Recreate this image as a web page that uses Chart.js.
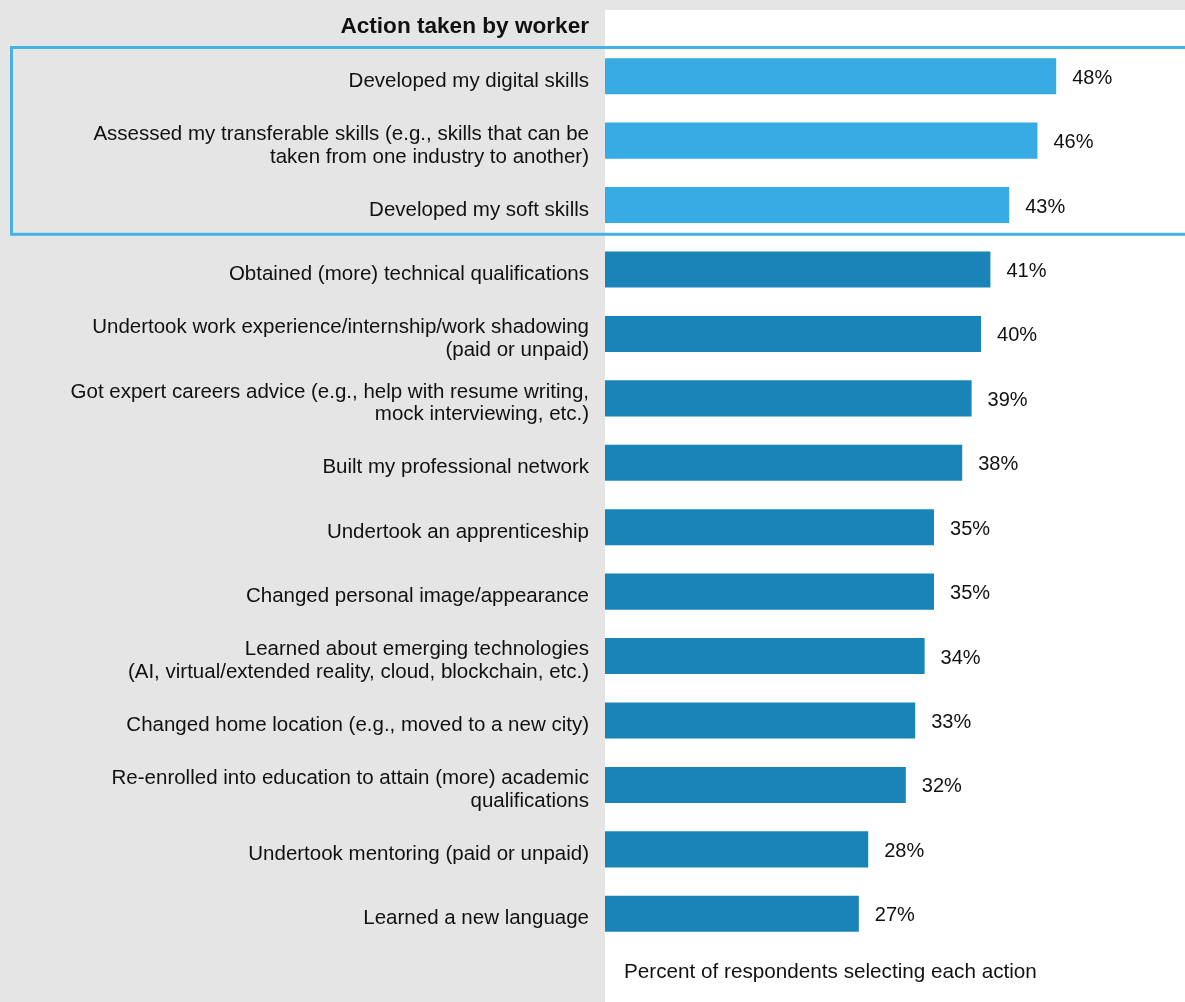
<!DOCTYPE html>
<html>
<head>
<meta charset="utf-8">
<script src="https://cdn.jsdelivr.net/npm/chart.js@4.4.1/dist/chart.umd.min.js"></script>
<style>
  html, body { margin: 0; padding: 0; background: #e5e5e5; }
  #wrap { width: 1185px; height: 1002px; position: relative; }
</style>
</head>
<body>
<div id="wrap"><canvas id="chart"></canvas></div>
<script>
const labels = [
  'Developed my digital skills',
  ['Assessed my transferable skills (e.g., skills that can be', 'taken from one industry to another)'],
  'Developed my soft skills',
  'Obtained (more) technical qualifications',
  ['Undertook work experience/internship/work shadowing', '(paid or unpaid)'],
  ['Got expert careers advice (e.g., help with resume writing,', 'mock interviewing, etc.)'],
  'Built my professional network',
  'Undertook an apprenticeship',
  'Changed personal image/appearance',
  ['Learned about emerging technologies', '(AI, virtual/extended reality, cloud, blockchain, etc.)'],
  'Changed home location (e.g., moved to a new city)',
  ['Re-enrolled into education to attain (more) academic', 'qualifications'],
  'Undertook mentoring (paid or unpaid)',
  'Learned a new language',
];
const values = [48, 46, 43, 41, 40, 39, 38, 35, 35, 34, 33, 32, 28, 27];
const highlighted = [true, true, true, false, false, false, false, false, false, false, false, false, false, false];

const HEADER = 'Action taken by worker';
const FOOTNOTE = 'Percent of respondents selecting each action';

const LIGHT = '#36ace2';
const DARK  = '#1a84b8';
const INK   = '#111111';
const FONT  = "'Liberation Sans', Arial, sans-serif";

// backgrounds, highlight box, value labels, header and footnote
const decor = {
  id: 'decor',
  beforeDraw(chart) {
    const { ctx, chartArea } = chart;
    ctx.save();
    ctx.fillStyle = '#e5e5e5';
    ctx.fillRect(0, 0, chart.width, chart.height);
    ctx.fillStyle = '#ffffff';
    ctx.fillRect(chartArea.left, 10, chart.width - chartArea.left, chart.height - 10);
    ctx.restore();
  },
  afterDatasetsDraw(chart) {
    const { ctx } = chart;
    const y = chart.scales.y;
    const meta = chart.getDatasetMeta(0);
    ctx.save();
    ctx.fillStyle = INK;
    ctx.font = `20px ${FONT}`;
    ctx.textAlign = 'left';
    ctx.textBaseline = 'middle';
    meta.data.forEach((bar, i) => {
      ctx.fillText(values[i] + '%', bar.x + 16, bar.y + 2);
    });

    // highlight box round the first three actions
    const step = y.getPixelForValue(1) - y.getPixelForValue(0);
    const top = y.getPixelForValue(0) - step / 2 + 3.5;
    const bottom = y.getPixelForValue(2) + step / 2 - 3;
    ctx.strokeStyle = '#45b1e5';
    ctx.lineWidth = 3;
    ctx.strokeRect(11.5, top, chart.width + 10, bottom - top);

    ctx.font = `bold 22.6px ${FONT}`;
    ctx.textAlign = 'right';
    ctx.fillText(HEADER, chart.chartArea.left - 16, 27);

    ctx.font = `20.7px ${FONT}`;
    ctx.textAlign = 'left';
    ctx.fillText(FOOTNOTE, chart.chartArea.left + 19, 972);
    ctx.restore();
  },
};

new Chart(document.getElementById('chart'), {
  type: 'bar',
  data: {
    labels,
    datasets: [{
      data: values,
      backgroundColor: highlighted.map(h => h ? LIGHT : DARK),
      borderWidth: 0,
      barPercentage: 0.56,
      categoryPercentage: 1,
    }],
  },
  options: {
    indexAxis: 'y',
    responsive: true,
    maintainAspectRatio: false,
    animation: false,
    layout: { padding: { top: 44, bottom: 56, left: 0, right: 0 } },
    plugins: { legend: { display: false }, tooltip: { enabled: false } },
    scales: {
      x: { display: false, min: 0, max: 61.7 },
      y: {
        grid: { display: false, drawTicks: false },
        border: { display: false },
        afterFit: s => { s.width = 605; },
        ticks: {
          color: INK,
          padding: 16,
          labelOffset: 5,
          font: { family: FONT, size: 20.5, lineHeight: 1.12 },
        },
      },
    },
  },
  plugins: [decor],
});
</script>
</body>
</html>
